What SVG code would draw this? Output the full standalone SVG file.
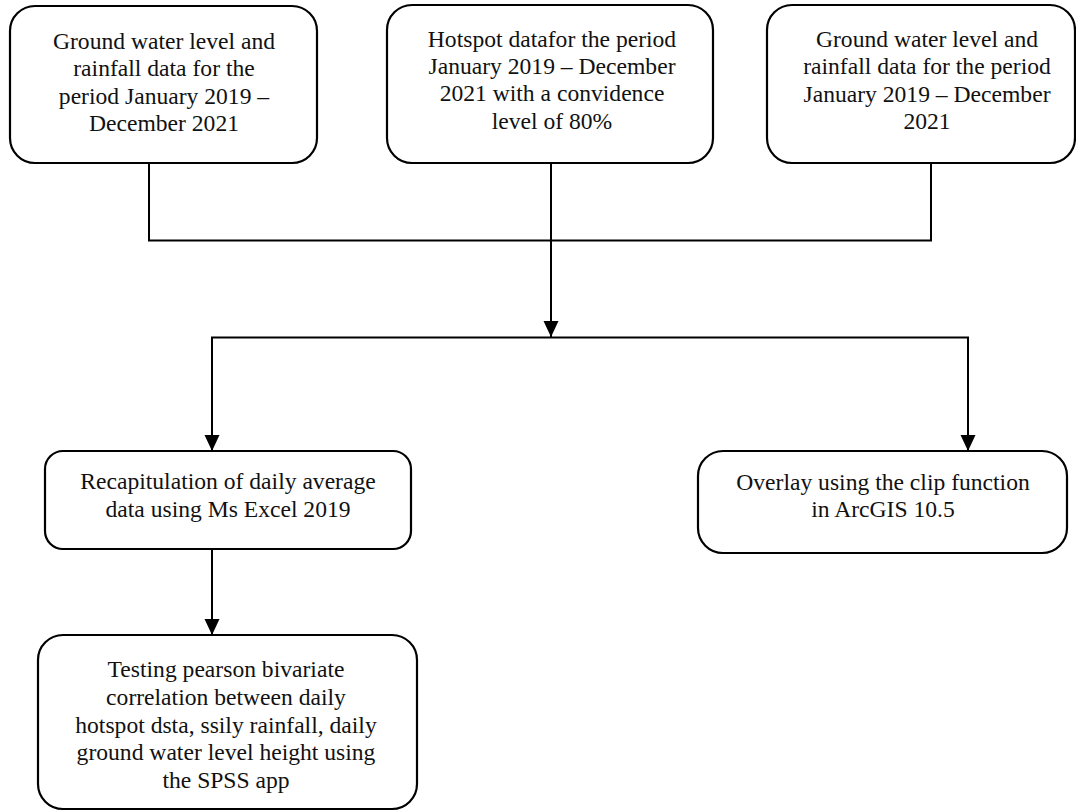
<svg xmlns="http://www.w3.org/2000/svg" width="1076" height="811" viewBox="0 0 1076 811">
<style>
.box{fill:#fff;stroke:#000;stroke-width:2.2}
.t{font-family:"Liberation Serif","Times New Roman",serif;font-size:23.6px;fill:#111;text-anchor:middle}
.c{fill:none;stroke:#000;stroke-width:2}
</style>
<defs>
<marker id="ah" markerUnits="userSpaceOnUse" markerWidth="16" markerHeight="16" refX="16" refY="8" orient="auto">
<path d="M0,0.5 L16,8 L0,15.5 z" fill="#000"/>
</marker>
</defs>
<rect width="1076" height="811" fill="#fff"/>
<g id="connectors">
<path class="c" d="M149,163 V240.5 H931 V163"/>
<path class="c" d="M551,163 V337" marker-end="url(#ah)"/>
<path class="c" d="M212,451 V337.5 H968 V451"/>
<path class="c" d="M212,337.5 V451" marker-end="url(#ah)"/>
<path class="c" d="M968,337.5 V451" marker-end="url(#ah)"/>
<path class="c" d="M212,550 V635" marker-end="url(#ah)"/>
</g>
<g id="n1">
<rect class="box" x="10" y="6" width="307" height="157" rx="25"/>
<text class="t"><tspan x="164" y="49">Ground water level and</tspan><tspan x="164" y="76.4">rainfall data for the</tspan><tspan x="164" y="103.8">period January 2019 –</tspan><tspan x="164" y="131.2">December 2021</tspan></text>
</g>
<g id="n2">
<rect class="box" x="387" y="5" width="326" height="158" rx="25"/>
<text class="t"><tspan x="552" y="46.5">Hotspot datafor the period</tspan><tspan x="552" y="73.9">January 2019 – December</tspan><tspan x="552" y="101.3">2021 with a convidence</tspan><tspan x="552" y="128.7">level of 80%</tspan></text>
</g>
<g id="n3">
<rect class="box" x="767" y="5" width="308" height="158" rx="25"/>
<text class="t"><tspan x="927" y="47">Ground water level and</tspan><tspan x="927" y="74.4">rainfall data for the period</tspan><tspan x="927" y="101.8">January 2019 – December</tspan><tspan x="927" y="129.2">2021</tspan></text>
</g>
<g id="n4">
<rect class="box" x="45" y="451" width="366" height="98" rx="18"/>
<text class="t"><tspan x="228" y="489">Recapitulation of daily average</tspan><tspan x="228" y="516.5">data using Ms Excel 2019</tspan></text>
</g>
<g id="n5">
<rect class="box" x="698" y="451" width="369" height="102" rx="25"/>
<text class="t"><tspan x="883" y="490">Overlay using the clip function</tspan><tspan x="883" y="517">in ArcGIS 10.5</tspan></text>
</g>
<g id="n6">
<rect class="box" x="38" y="635" width="379" height="174" rx="25"/>
<text class="t"><tspan x="226" y="677">Testing pearson bivariate</tspan><tspan x="226" y="704.8">correlation between daily</tspan><tspan x="226" y="732.6">hotspot dsta, ssily rainfall, daily</tspan><tspan x="226" y="760.4">ground water level height using</tspan><tspan x="226" y="788.2">the SPSS app</tspan></text>
</g>
</svg>
